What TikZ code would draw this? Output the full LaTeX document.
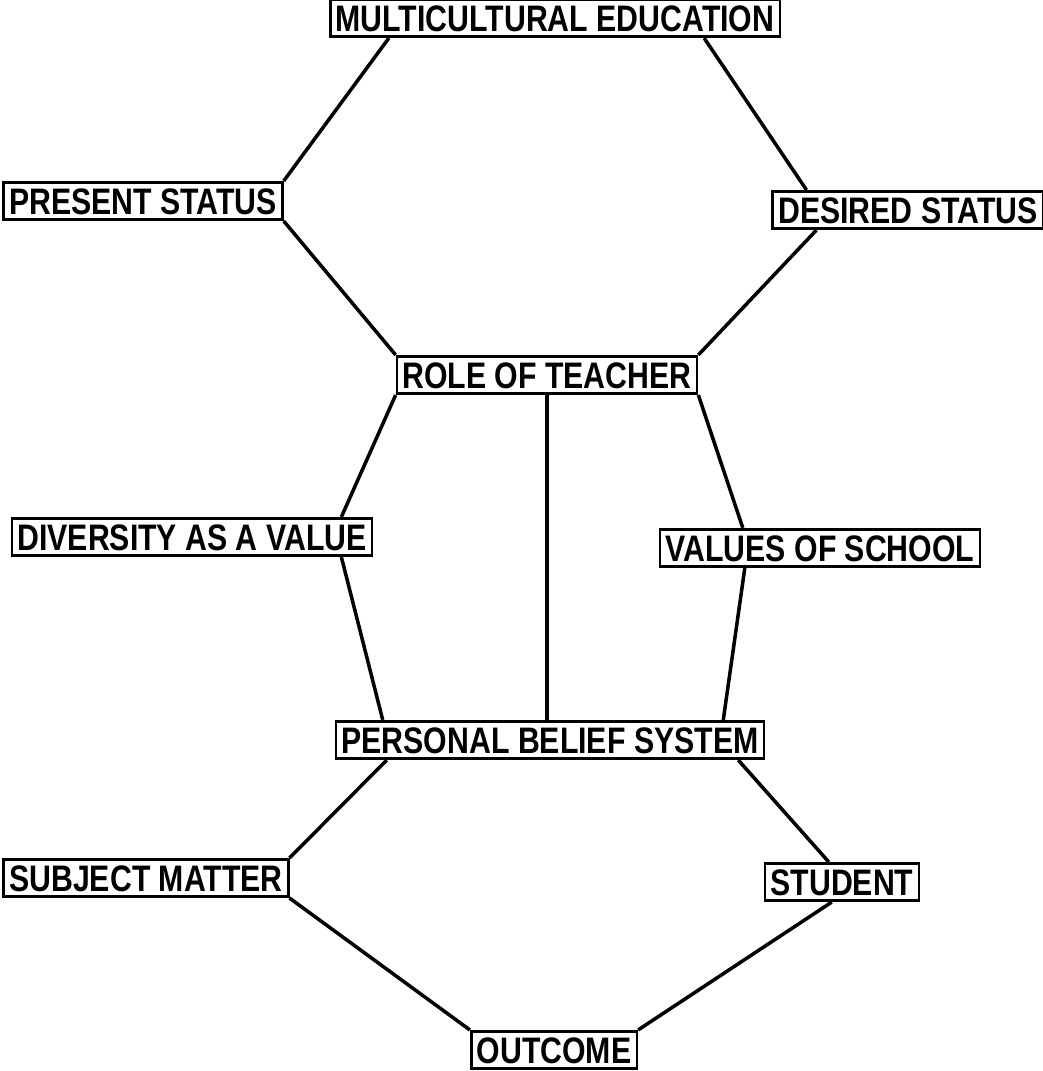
\documentclass[tikz,border=0pt]{standalone}
\usepackage{fontspec}
\setmainfont{Liberation Sans}[FakeStretch=0.82]
\usepackage{tikz}
\usetikzlibrary{calc}

\begin{document}
\begin{tikzpicture}[x=0.02cm, y=-0.02cm]

                \useasboundingbox (0, 0) rectangle (1043, 1071);

                % Style of the boxes around each topic
                \tikzset{topic/.style={draw, line width=1.5pt, inner sep=0.11cm,
                        text height=0.53cm, text depth=0pt,
                        font=\fontsize{21}{25}\selectfont\bfseries}}

                % The topics, placed at their centres
                \begin{scope}
                    \node[topic] (me) at (555, 18)
                    {MULTICULTURAL EDUCATION};
                    \node[topic] (ps) at (143, 201)
                    {PRESENT STATUS};
                    \node[topic] (ds) at (908, 210)
                    {DESIRED STATUS};
                    \node[topic] (rt) at (547, 375)
                    {ROLE OF TEACHER};
                    \node[topic] (div) at (192, 537)
                    {DIVERSITY AS A VALUE};
                    \node[topic] (vos) at (820, 548)
                    {VALUES OF SCHOOL};
                    \node[topic] (pbs) at (550, 740)
                    {PERSONAL BELIEF SYSTEM};
                    \node[topic] (sm) at (146, 878)
                    {SUBJECT MATTER};
                    \node[topic] (st) at (842, 882)
                    {STUDENT};
                    \node[topic] (out) at (554, 1050)
                    {OUTCOME};
                \end{scope}

                \begin{scope}[line width=2pt]
                    \draw ([xshift=1.2cm]me.south west) -- (ps.north east);
                    \draw ([xshift=-1.54cm]me.south east) -- ([xshift=0.7cm]ds.north west);
                    \draw (ps.south east) -- (rt.north west);
                    \draw ([xshift=0.9cm]ds.south west) -- (rt.north east);
                    \draw (rt.south west) -- ([xshift=-0.64cm]div.north east);
                    \draw (rt.south) -- (rt.south |- pbs.north);
                    \draw (rt.south east) -- ([xshift=1.68cm]vos.north west);
                    \draw ([xshift=-0.64cm]div.south east) -- ([xshift=0.96cm]pbs.north west);
                    \draw ([xshift=1.72cm]vos.south west) -- ([xshift=-0.84cm]pbs.north east);
                    \draw ([xshift=1.04cm]pbs.south west) -- (sm.north east);
                    \draw ([xshift=-0.54cm]pbs.south east) -- ([xshift=1.3cm]st.north west);
                    \draw (sm.south east) -- (out.north west);
                    \draw ([xshift=1.36cm]st.south west) -- (out.north east);
                \end{scope}

\end{tikzpicture}
\end{document}
